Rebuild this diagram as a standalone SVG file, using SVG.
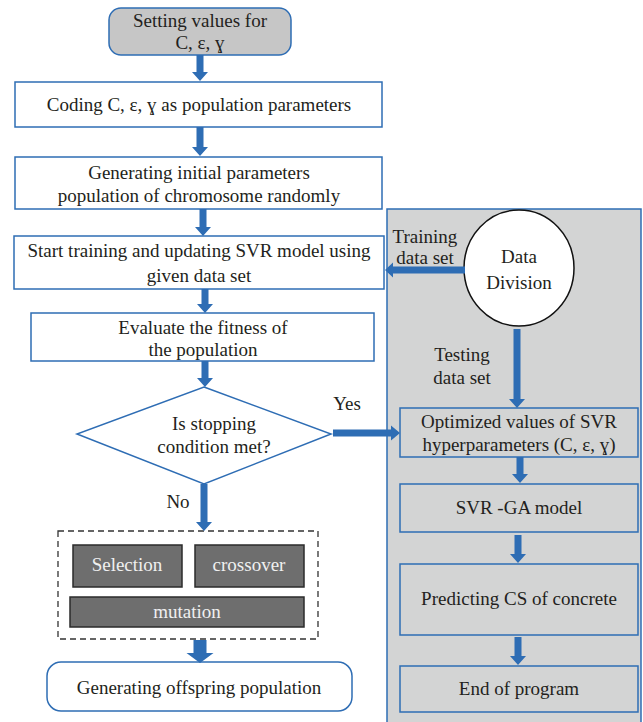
<svg xmlns="http://www.w3.org/2000/svg" width="643" height="722" viewBox="0 0 643 722">
<style>
.bx{fill:#fff;stroke:#2e6db4;stroke-width:1.5}
.gb{fill:#d3d4d4;stroke:#2e6db4;stroke-width:1.5}
.dk{fill:#6e6e6e;stroke:#2b2b2b;stroke-width:1.5}
.t{font-family:"Liberation Serif","Times New Roman",serif;font-size:19px;fill:#231f20;text-anchor:middle}
.w{fill:#f0f0f0}
.ar{fill:#2e6db4}
</style>
<rect x="0" y="0" width="643" height="722" fill="#fff"/>
<g id="panel"><rect x="387" y="209" width="254" height="516" class="gb"/></g>
<g id="start"><rect x="109" y="8" width="182" height="47" rx="12" fill="#c6c6c6" stroke="#2e6db4" stroke-width="1.5"/>
<text class="t" x="200" y="27">Setting values for</text><text class="t" x="200" y="49">C, ε, ɣ</text></g>
<g id="coding"><rect x="15" y="82" width="367" height="45" class="bx"/><text class="t" x="199" y="111">Coding C, ε, ɣ as population parameters</text></g>
<g id="generating"><rect x="15" y="157" width="367" height="52" class="bx"/><text class="t" x="199" y="179">Generating initial parameters</text><text class="t" x="199" y="202">population of chromosome randomly</text></g>
<g id="training"><rect x="14" y="236" width="370" height="53" class="bx"/><text class="t" x="199" y="257">Start training and updating SVR model using</text><text class="t" x="199" y="282">given data set</text></g>
<g id="evaluate"><rect x="31" y="313" width="343" height="48" class="bx"/><text class="t" x="203" y="334">Evaluate the fitness of</text><text class="t" x="203" y="356">the population</text></g>
<g id="decision"><polygon points="204,387 331,434 204,484 77,434" class="bx"/><text class="t" x="214" y="430">Is stopping</text><text class="t" x="214" y="453">condition met?</text></g>
<g id="ops"><rect x="58" y="531" width="260" height="108" fill="none" stroke="#333" stroke-width="1.3" stroke-dasharray="6,4"/>
<g id="selection"><rect x="73" y="545" width="109" height="42" class="dk"/><text class="t w" x="127" y="571">Selection</text></g>
<g id="crossover"><rect x="195" y="545" width="109" height="42" class="dk"/><text class="t w" x="249" y="571">crossover</text></g>
<g id="mutation"><rect x="70" y="597" width="234" height="30" class="dk"/><text class="t w" x="187" y="618">mutation</text></g></g>
<g id="offspring"><rect x="47" y="662" width="305" height="49" rx="14" class="bx"/><text class="t" x="199" y="694">Generating offspring population</text></g>
<g id="datadivision"><ellipse cx="519" cy="268" rx="55" ry="58" fill="#fff" stroke="#111" stroke-width="1.5"/><text class="t" x="519" y="263">Data</text><text class="t" x="519" y="289">Division</text></g>
<g id="optimized"><rect x="400" y="408" width="238" height="49" class="gb"/><text class="t" x="519" y="428">Optimized values of SVR</text><text class="t" x="519" y="451">hyperparameters (C, ε, ɣ)</text></g>
<g id="svrga"><rect x="400" y="484" width="238" height="48" class="gb"/><text class="t" x="519" y="514">SVR -GA model</text></g>
<g id="predicting"><rect x="400" y="564" width="238" height="71" class="gb"/><text class="t" x="519" y="605">Predicting CS of concrete</text></g>
<g id="end"><rect x="400" y="666" width="238" height="46" class="gb"/><text class="t" x="519" y="695">End of program</text></g>
<g id="connectors">
<path class="ar" d="M196.5 55H203.5V72H208L200 81L192 72H196.5Z"/>
<path class="ar" d="M196.5 127H203.5V147H208L200 156L192 147H196.5Z"/>
<path class="ar" d="M199.5 209H206.5V227H211L203 236L195 227H199.5Z"/>
<path class="ar" d="M201.5 289H208.5V304H213L205 313L197 304H201.5Z"/>
<path class="ar" d="M201.5 361H208.5V378H213L205 387L197 378H201.5Z"/>
<path class="ar" d="M200.5 484H207.5V522H212L204 531L196 522H200.5Z"/>
<path class="ar" d="M193.5 640H206.5V653H213.5L200 663L186.5 653H193.5Z"/>
<path class="ar" d="M465 266.5V273.5H393V277.5L385 270L393 262.5V266.5Z"/>
<path class="ar" d="M333 429.5H391V425.5L400 433L391 440.5V436.5H333Z"/>
<path class="ar" d="M513.5 329H520.5V399H525L517 408L509 399H513.5Z"/>
<path class="ar" d="M516.5 457H523.5V474H528L520 483L512 474H516.5Z"/>
<path class="ar" d="M514.5 535H521.5V554H526L518 563L510 554H514.5Z"/>
<path class="ar" d="M514.5 637H521.5V656H526L518 665L510 656H514.5Z"/>
</g>
<g id="labels">
<text class="t" x="425" y="243">Training</text><text class="t" x="425" y="264">data set</text>
<text class="t" x="462" y="361">Testing</text><text class="t" x="462" y="384">data set</text>
<text class="t" x="347" y="410">Yes</text>
<text class="t" x="178" y="508">No</text>
</g>
</svg>
